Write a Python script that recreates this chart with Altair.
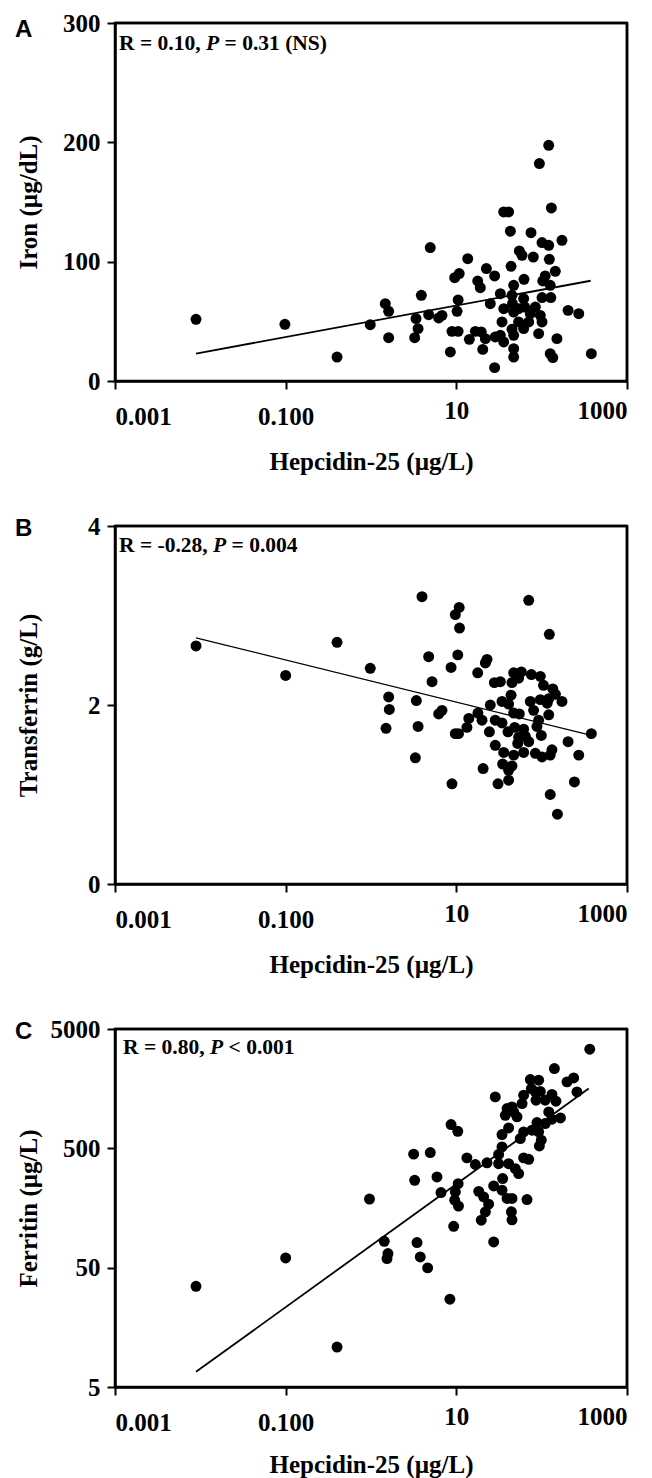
import altair as alt
import pandas as pd

# ---------------- Panel A: Iron vs Hepcidin-25 ----------------
hep_a = [121, 94, 130, 35.9, 41, 43, 75, 4.95, 101, 121,
         173, 54.7, 58.9, 79.8, 123, 13.6, 43.8, 22.5, 28.1, 10.8,
         9.57, 144.5, 17.8, 19.1, 62.1, 110, 103, 126, 47, 3.89,
         10.5, 32.8, 101, 128, 1.47, 1.61, 25, 44.9, 45.5, 36,
         61.5, 10.2, 63.2, 47, 53.7, 84.3, 4.74, 6.21, 6.79, 3.37,
         73.6, 96.4, 101, 204, 272, 53.7, 70.5, 34.3, 0.98, 3.56,
         61.5, 44.9, 92.2, 3.25, 1.61, 8.89, 10.5, 16.7, 19.6, 32.8,
         47, 28.6, 21.9, 14.2, 35.9, 151, 20.4, 47, 8.51, 47,
         126, 135, 382, 28.1, 0.40, 0.0089, 0.098]
iron = [197.5, 182.2, 145, 141.7, 141.7, 125.5, 124.3, 111.8, 116, 113.7,
        117.9, 109, 105.3, 103.9, 102, 102.5, 96.1, 94.2, 88, 90,
        86.6, 91.9, 83.8, 78.2, 85.2, 88, 83.8, 80.2, 80.2, 71.8,
        67.9, 73.2, 69.9, 69.9, 64.8, 58.4, 64.8, 71.8, 64.8, 60.6,
        69, 58.4, 62, 57.8, 60.6, 62, 55.6, 52.8, 55, 52.3,
        56.4, 55, 49.5, 59.2, 56.4, 49.5, 49.5, 49.5, 47.2, 43.9,
        43.9, 43.3, 39.7, 36.3, 36.3, 41.6, 41.6, 41.6, 41.1, 38.3,
        38.3, 36.9, 35.5, 34.9, 32.7, 35.5, 26.5, 27.1, 24.3, 20.1,
        22.9, 19.6, 22.9, 11.2, 20.1, 51.7, 47.5]
fit_a_hep = [0.0089, 375]
fit_a_val = [23, 84]
iron_domain = [0, 300]
iron_ticks = [0, 100, 200, 300]

# ---------------- Panel B: Transferrin vs Hepcidin-25 ----------------
hep_b = [3.96, 10.8, 9.73, 10.9, 70.5, 123, 0.40, 4.74, 10.4, 8.67,
         22.9, 21.9, 17.8, 0.98, 5.19, 27.9, 32.8, 47, 57.8, 75.7,
         96.4, 53.7, 44.9, 105, 135, 145, 121, 173, 43.8, 34.3,
         41, 73.6, 96.4, 116, 25, 1.61, 1.64, 3.40, 6.79, 6.21,
         17.9, 14.0, 20.0, 28.6, 34.3, 47, 54.7, 80.5, 92.2, 121,
         1.50, 3.56, 9.73, 10.6, 13.3, 24.4, 40.3, 48.3, 61.5, 53.7,
         64.4, 52.4, 70.5, 88.1, 99, 382, 28.6, 35.9, 47, 61.5,
         84.3, 101, 132, 126, 204, 272, 3.31, 34.9, 44.9, 41,
         20.6, 8.89, 30.8, 41, 126, 242, 153, 0.0089, 0.1]
transferrin = [3.21, 3.09, 3.01, 2.86, 3.17, 2.79, 2.70, 2.54, 2.56, 2.42,
               2.51, 2.47, 2.36, 2.41, 2.26, 2.25, 2.26, 2.36, 2.37, 2.34,
               2.32, 2.30, 2.25, 2.22, 2.18, 2.12, 2.07, 2.04, 2.11, 2.04,
               2.01, 2.04, 2.06, 2.02, 2.00, 2.09, 1.95, 2.05, 1.94, 1.90,
               1.91, 1.85, 1.83, 1.83, 1.80, 1.91, 1.90, 1.94, 1.83, 1.89,
               1.74, 1.76, 1.68, 1.68, 1.75, 1.70, 1.70, 1.75, 1.73, 1.64,
               1.65, 1.57, 1.59, 1.76, 1.66, 1.68, 1.55, 1.47, 1.44, 1.47,
               1.46, 1.42, 1.50, 1.44, 1.59, 1.44, 1.41, 1.34, 1.32, 1.27,
               1.29, 1.12, 1.12, 1.16, 1.00, 1.14, 0.78, 2.66, 2.33]
fit_b_hep = [0.0089, 382]
fit_b_val = [2.75, 1.66]
transferrin_domain = [0, 4]
transferrin_ticks = [0, 2, 4]

# ---------------- Panel C: Ferritin vs Hepcidin-25 ----------------
hep_c = [366, 141, 198, 237, 259, 73.6, 92.2, 75.7, 84.3, 96.4,
         132, 147, 61.5, 28.6, 85.9, 110, 58.9, 44.9, 39.3, 47,
         37.5, 51.4, 121, 132, 166, 88.1, 110, 77.1, 92.2, 41,
         61.5, 34.3, 56.2, 99, 94, 8.67, 10.4, 34.3, 31.3, 61.5,
         70.5, 13.3, 16.7, 22.9, 31.3, 41, 49.1, 53.7, 3.16, 4.95,
         3.25, 5.93, 6.61, 10.5, 9.73, 9.57, 10.6, 18.3, 20.9, 23.9,
         27.4, 34.9, 34.3, 39.3, 44.9, 67.3, 21.9, 19.6, 44.2, 44.9,
         0.96, 9.31, 27.4, 1.43, 1.58, 1.54, 3.46, 3.78, 4.61,
         0.0089, 0.1, 0.40, 8.4]
ferritin = [3388, 2333, 1803, 1945, 1486, 1884, 1862, 1585, 1486, 1500,
            1413, 1241, 1393, 1349, 1265, 1265, 1186, 1112, 1077, 1009,
            946, 918, 1009, 877, 899, 822, 807, 709, 687, 741,
            687, 652, 604, 585, 524, 791, 695, 514, 444, 416,
            405, 416, 366, 378, 372, 372, 338, 307, 447, 461,
            270, 288, 213, 253, 216, 184, 164, 218, 196, 170,
            242, 279, 223, 190, 190, 186, 147, 125, 147, 126,
            188, 111, 82.2, 83.2, 65.6, 59.6, 81.1, 61.5, 49.8,
            34.9, 60.3, 10.8, 27.2]
fit_c_hep = [0.0089, 356]
fit_c_val = [6.7, 1585]
ferritin_domain = [5, 5000]
ferritin_ticks = [5, 50, 500, 5000]

x_domain = [0.001, 1000]
x_ticks = [0.001, 0.1, 10, 1000]
x_title = "Hepcidin-25 (µg/L)"

SERIF = "Liberation Serif"
SANS = "Liberation Sans"
W, H = 512, 358
FRAME_W = 2.5


def x_enc(field, title_y):
    return alt.X(
        f"{field}:Q",
        scale=alt.Scale(type="log", domain=x_domain),
        axis=alt.Axis(
            values=x_ticks,
            labelExpr="datum.value < 1 ? format(datum.value, '.3f') : format(datum.value, 'd')",
            title=x_title,
            titleFont=SERIF, titleFontSize=25, titleFontWeight="bold", titleColor="black",
            titleY=title_y, titleBaseline="alphabetic",
            labelFont=SERIF, labelFontSize=25, labelFontWeight="bold", labelColor="black",
            labelPadding={"condition": {"test": "datum.value >= 10", "value": 9}, "value": 15},
            labelOverlap=False,
            tickSize=8, tickWidth=2, tickColor="black",
            domain=True, domainColor="black", domainWidth=FRAME_W, grid=False,
        ),
    )


def y_enc(field, title, scale, values):
    return alt.Y(
        f"{field}:Q",
        scale=scale,
        axis=alt.Axis(
            values=values, format="d",
            title=title,
            titleFont=SERIF, titleFontSize=25, titleFontWeight="bold", titleColor="black",
            titleX=-79, titleBaseline="alphabetic",
            labelFont=SERIF, labelFontSize=25, labelFontWeight="bold", labelColor="black",
            labelPadding=7, labelOverlap=False,
            tickSize=8, tickWidth=2, tickColor="black",
            domain=True, domainColor="black", domainWidth=FRAME_W, grid=False,
        ),
    )


def text_piece(s, x, y, italic=False, font=SERIF, size=21.5):
    return alt.Chart(pd.DataFrame({"t": [s]})).mark_text(
        align="left", baseline="alphabetic", font=font, fontSize=size,
        fontWeight="bold", fontStyle="italic" if italic else "normal", color="black",
    ).encode(text="t:N", x=alt.value(x), y=alt.value(y))


def panel(hep, vals, fhep, fvals, field, ytitle, ydomain, ylog, yvals, letter, letter_y,
          pieces, ann_y, lw, title_y):
    yscale = alt.Scale(type="log", domain=ydomain) if ylog else alt.Scale(domain=ydomain)
    df = pd.DataFrame({"hep": hep, field: vals})
    fit = pd.DataFrame({"hep": fhep, field: fvals})
    xe = x_enc("hep", title_y)
    ye = y_enc(field, ytitle, yscale, yvals)
    pts = alt.Chart(df).mark_circle(size=120, color="black", opacity=1).encode(x=xe, y=ye)
    line = alt.Chart(fit).mark_line(color="black", strokeWidth=lw).encode(x=xe, y=ye)
    # frame: top edge and right edge along the scale domain limits
    top_df = pd.DataFrame({"hep": [x_domain[0]], "hep2": [x_domain[1]], field: [ydomain[1]]})
    right_df = pd.DataFrame({"hep": [x_domain[1]], field: [ydomain[0]], "y2": [ydomain[1]]})
    top = alt.Chart(top_df).mark_rule(color="black", strokeWidth=FRAME_W).encode(
        x=xe, x2="hep2:Q", y=ye)
    right = alt.Chart(right_df).mark_rule(color="black", strokeWidth=FRAME_W).encode(
        x=xe, y=ye, y2="y2:Q")
    layers = [pts, line, top, right, text_piece(letter, -100, letter_y, font=SANS, size=24)]
    for s, x, it in pieces:
        layers.append(text_piece(s, x, ann_y, italic=it))
    return alt.layer(*layers).properties(width=W, height=H)


pa = panel(hep_a, iron, fit_a_hep, fit_a_val, "iron", "Iron (µg/dL)",
           iron_domain, False, iron_ticks, "A", 14,
           [("R = 0.10,", 4, False), ("P", 91, True), ("= 0.31 (NS)", 109.5, False)],
           27, 1.8, 88)
pb = panel(hep_b, transferrin, fit_b_hep, fit_b_val, "transferrin", "Transferrin (g/L)",
           transferrin_domain, False, transferrin_ticks, "B", 10,
           [("R = -0.28,", 4, False), ("P", 98, True), ("= 0.004", 116.5, False)],
           26, 1.2, 88)
pc = panel(hep_c, ferritin, fit_c_hep, fit_c_val, "ferritin", "Ferritin (µg/L)",
           ferritin_domain, True, ferritin_ticks, "C", 10,
           [("R = 0.80,", 8, False), ("P", 95, True), ("< 0.001", 113.5, False)],
           25, 1.8, 85)

chart = alt.vconcat(pa, pb, pc, spacing=145, bounds="flush").properties(
    padding={"left": 5, "top": 1, "right": 0, "bottom": 0}
).configure(background="white").configure_view(stroke="black", strokeWidth=FRAME_W)

chart.save("out.html", embed_options={"renderer": "svg", "actions": False})
